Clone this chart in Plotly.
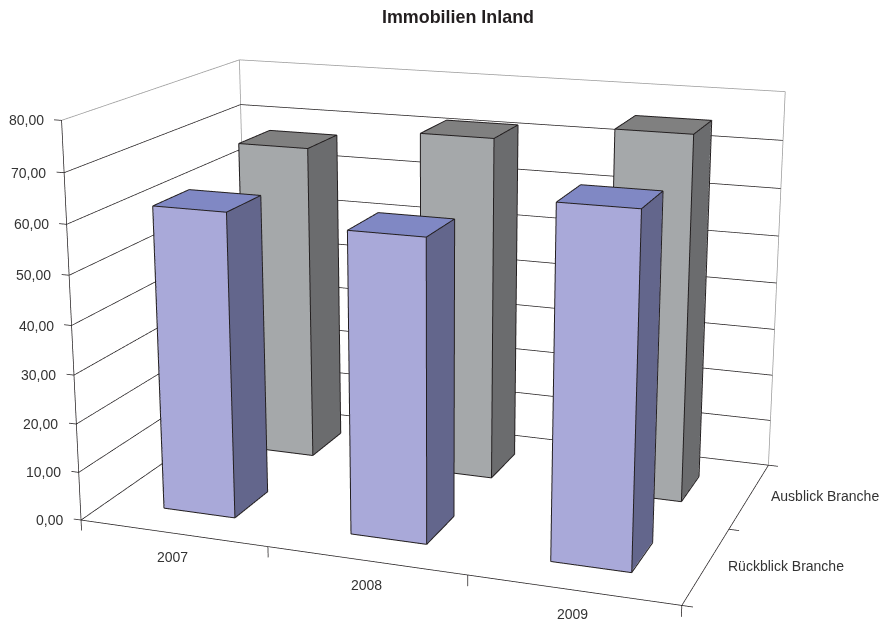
import math
import plotly.graph_objects as go

years = ["2007", "2008", "2009"]
rows = ["Rückblick Branche", "Ausblick Branche"]
rueckblick = [62.0, 60.5, 69.0]
ausblick = [67.0, 71.8, 75.3]
z_ticks = [0, 10, 20, 30, 40, 50, 60, 70, 80]

BAR_W = 0.387
BAR_D = 0.40
Z_MAX = 80
FONT = "Liberation Sans, Arial, sans-serif"
INK = "#231F20"
PALE = "#9A9A9A"
GRID_W = 1.5
EDGE_W = 2

# Narrow field of view: the scene is drawn on a tall canvas and the visible
# part of the page is centred on it.
CANVAS_W, CANVAS_H = 1770, 1731
VIEW_CX, VIEW_CY = 436.5, 303.5
SHIFT_X = CANVAS_W / 2 - VIEW_CX
SHIFT_Y = CANVAS_H / 2 - VIEW_CY

nx, ny = len(years), len(rows)
PAD_X0, PAD_X1 = 0.2, 0.3
PAD_Y0, PAD_Y1 = 0.2, 0.2
PAD_Z0, PAD_Z1 = 10.0, 5.0
range_x = [-PAD_X0, nx + PAD_X1]
range_y = [-PAD_Y0, ny + PAD_Y1]
range_z = [-PAD_Z0, Z_MAX + PAD_Z1]

# scene units per data unit
unit_x = 0.872 / nx
unit_y = 0.560 / ny
unit_z = 0.575 / Z_MAX

AZIMUTH = math.radians(20)
ELEVATION = math.radians(15.5)
DISTANCE = 3.0

toward_eye = (
    math.sin(AZIMUTH) * math.cos(ELEVATION),
    -math.cos(AZIMUTH) * math.cos(ELEVATION),
    math.sin(ELEVATION),
)

span = lambda r: r[1] - r[0]
mid = lambda r: (r[0] + r[1]) / 2
look = (
    (nx / 2 - mid(range_x)) * unit_x,
    (ny / 2 - mid(range_y)) * unit_y,
    (Z_MAX / 2 - mid(range_z)) * unit_z,
)
eye = tuple(look[a] + DISTANCE * toward_eye[a] for a in range(3))

# bar outlines are pulled this far towards the viewer to stay above their faces
LIFT = 0.006
lift_x = LIFT * toward_eye[0] / unit_x
lift_y = LIFT * toward_eye[1] / unit_y
lift_z = LIFT * toward_eye[2] / unit_z


def bar_mesh(values, row, front, top, side):
    """One Mesh3d holding a whole row of bars, coloured per visible face."""
    xs, ys, zs, i, j, k, colors = [], [], [], [], [], [], []
    lx, ly, lz = [], [], []
    for c, v in enumerate(values):
        x0, x1 = c + 0.5 - BAR_W / 2, c + 0.5 + BAR_W / 2
        y0, y1 = row + 0.5 - BAR_D / 2, row + 0.5 + BAR_D / 2
        n = len(xs)
        xs += [x0, x1, x1, x0, x0, x1, x1, x0]
        ys += [y0, y0, y1, y1, y0, y0, y1, y1]
        zs += [0, 0, 0, 0, v, v, v, v]
        faces = [
            (0, 1, 5, front), (0, 5, 4, front),
            (1, 2, 6, side), (1, 6, 5, side),
            (4, 5, 6, top), (4, 6, 7, top),
            (3, 2, 6, front), (3, 6, 7, front),
            (0, 3, 7, side), (0, 7, 4, side),
            (0, 1, 2, side), (0, 2, 3, side),
        ]
        for a, b, d, col in faces:
            i.append(n + a); j.append(n + b); k.append(n + d); colors.append(col)
        # outline of the three faces seen by the viewer
        for a, b in [(0, 1), (1, 5), (5, 4), (4, 0), (1, 2), (2, 6), (6, 5), (6, 7), (7, 4)]:
            lx += [xs[n + a] + lift_x, xs[n + b] + lift_x, None]
            ly += [ys[n + a] + lift_y, ys[n + b] + lift_y, None]
            lz += [zs[n + a] + lift_z, zs[n + b] + lift_z, None]
    mesh = go.Mesh3d(x=xs, y=ys, z=zs, i=i, j=j, k=k, facecolor=colors, flatshading=True,
                     lighting=dict(ambient=1, diffuse=0, specular=0, fresnel=0, roughness=1),
                     hoverinfo="skip", showscale=False)
    edges = go.Scatter3d(x=lx, y=ly, z=lz, mode="lines", line=dict(color=INK, width=EDGE_W),
                         hoverinfo="skip", showlegend=False)
    return mesh, edges


def segments(points, color):
    px, py, pz = [], [], []
    for a, b in points:
        px += [a[0], b[0], None]
        py += [a[1], b[1], None]
        pz += [a[2], b[2], None]
    return go.Scatter3d(x=px, y=py, z=pz, mode="lines", line=dict(color=color, width=GRID_W),
                        hoverinfo="skip", showlegend=False)


dark_lines = [
    ((0, 0, 0), (nx, 0, 0)), ((nx, 0, 0), (nx, ny, 0)), ((0, 0, 0), (0, 0, Z_MAX)),
]
# grid on the left and back walls, except the top edge
for t in z_ticks[:-1]:
    dark_lines += [((0, 0, t), (0, ny, t)), ((0, ny, t), (nx, ny, t))]
# tick marks
dark_lines += [((c, 0, 0), (c, 0, -2.2)) for c in range(nx + 1)]
dark_lines += [((nx, r, 0), (nx + 0.05, r, 0)) for r in range(ny + 1)]
dark_lines += [((0, 0, t), (-0.04, 0, t)) for t in z_ticks]

pale_lines = [
    ((0, 0, Z_MAX), (0, ny, Z_MAX)), ((0, ny, Z_MAX), (nx, ny, Z_MAX)),
    ((nx, ny, Z_MAX), (nx, ny, 0)), ((0, ny, 0), (0, ny, Z_MAX)),
]

back_mesh, back_edges = bar_mesh(ausblick, 1, "#A5A8AA", "#808080", "#6B6C6E")
front_mesh, front_edges = bar_mesh(rueckblick, 0, "#A9A9D9", "#8088C4", "#63668C")

fig = go.Figure()
# solid faces go first so the lines blend over them
fig.add_trace(back_mesh)
fig.add_trace(front_mesh)
fig.add_trace(segments(pale_lines, PALE))
fig.add_trace(segments(dark_lines, INK))
fig.add_trace(back_edges)
fig.add_trace(front_edges)

label_font = dict(family=FONT, size=14, color="#333333")
labels = []
for t in z_ticks:
    labels.append(dict(x=0, y=0, z=t, text=f"{t:.2f}".replace(".", ","), showarrow=False,
                       xanchor="right", yanchor="middle", xshift=-16, font=label_font))
for c, name in enumerate(years):
    labels.append(dict(x=c + 0.5, y=0, z=0, text=name, showarrow=False,
                       xanchor="center", yanchor="middle", yshift=-24, font=label_font))
for r, name in enumerate(rows):
    labels.append(dict(x=nx, y=r + 0.5, z=0, text=name, showarrow=False,
                       xanchor="left", yanchor="middle", xshift=20, font=label_font))

hidden = dict(visible=False, showbackground=False, showgrid=False, zeroline=False, showspikes=False)
fig.update_layout(
    width=CANVAS_W, height=CANVAS_H, autosize=False, margin=dict(l=0, r=0, t=0, b=0), paper_bgcolor="#FFFFFF",
    showlegend=False,
    title=dict(text="<b>Immobilien Inland</b>",
               x=(457.5 + SHIFT_X) / CANVAS_W, y=1 - (17 + SHIFT_Y) / CANVAS_H,
               xanchor="center", yanchor="middle",
               font=dict(family=FONT, size=17.9, color="#231F20")),
    scene=dict(
        domain=dict(x=[0, 1], y=[0, 1]),
        aspectmode="manual",
        aspectratio=dict(x=span(range_x) * unit_x, y=span(range_y) * unit_y, z=span(range_z) * unit_z),
        camera=dict(eye=dict(x=eye[0], y=eye[1], z=eye[2]),
                    center=dict(x=look[0], y=look[1], z=look[2]),
                    up=dict(x=0, y=0, z=1),
                    projection=dict(type="perspective")),
        xaxis=dict(range=range_x, **hidden),
        yaxis=dict(range=range_y, **hidden),
        zaxis=dict(range=range_z, **hidden),
        annotations=labels,
    ),
)
page_offset = (
    f"var gd = document.getElementById('{{plot_id}}');"
    f"document.documentElement.style.overflow = 'hidden';"
    f"document.body.style.overflow = 'hidden';"
    f"gd.style.position = 'absolute';"
    f"gd.style.left = '{-SHIFT_X}px';"
    f"gd.style.top = '{-SHIFT_Y}px';"
)
fig.write_html("out.html", post_script=page_offset)
